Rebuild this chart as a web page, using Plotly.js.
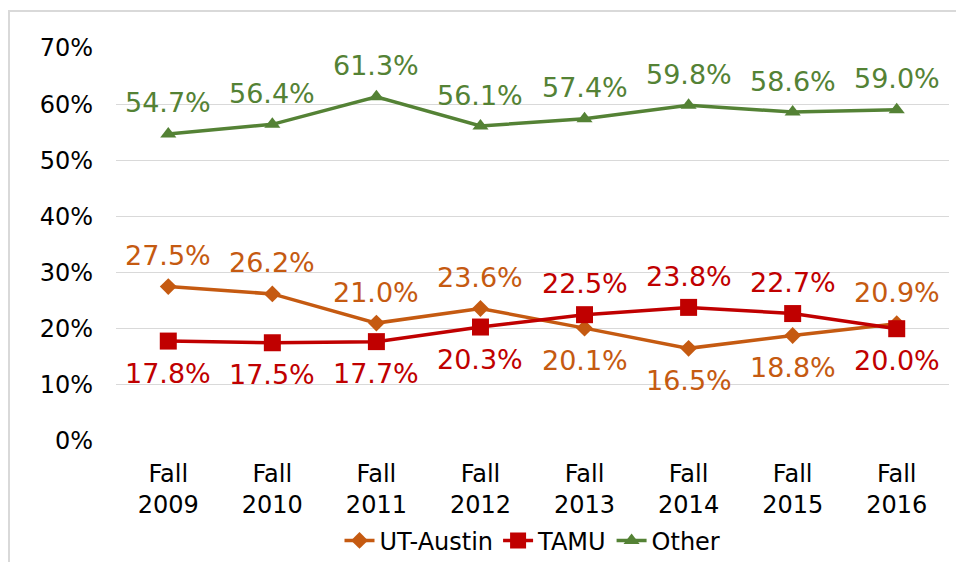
<!DOCTYPE html>
<html>
<head>
<meta charset="utf-8">
<script src="https://cdn.plot.ly/plotly-3.0.1.min.js"></script>
<style>
  html, body { margin: 0; padding: 0; background: #ffffff; }
  #frame { position: absolute; left: 8px; top: 10px; width: 1000px; height: 600px; border: 2px solid #d9d9d9; box-sizing: border-box; z-index: 0; }
  #chart { position: absolute; left: 0; top: 0; width: 956px; height: 562px; z-index: 1; }
</style>
</head>
<body>
<div id="frame"></div>
<div id="chart"></div>
<script>
const categories = ["Fall<br>2009", "Fall<br>2010", "Fall<br>2011", "Fall<br>2012", "Fall<br>2013", "Fall<br>2014", "Fall<br>2015", "Fall<br>2016"];
const utAustin = [27.5, 26.2, 21.0, 23.6, 20.1, 16.5, 18.8, 20.9];
const tamu = [17.8, 17.5, 17.7, 20.3, 22.5, 23.8, 22.7, 20.0];
const other = [54.7, 56.4, 61.3, 56.1, 57.4, 59.8, 58.6, 59.0];
const utLabelPos = ["above", "above", "above", "above", "below", "below", "below", "above"];
const tamuLabelPos = ["below", "below", "below", "below", "above", "above", "above", "below"];
const otherLabelPos = ["above", "above", "above", "above", "above", "above", "above", "above"];
const yTickVals = [0, 10, 20, 30, 40, 50, 60, 70];
const yTickText = ["0%", "10%", "20%", "30%", "40%", "50%", "60%", "70%"];

const FONT = "DejaVu Sans, Verdana, sans-serif";
const cOrange = "#C55A11";
const cRed = "#C00000";
const cGreen = "#548235";

const traces = [
  { name: "UT-Austin", x: categories, y: utAustin, type: "scatter", mode: "lines+markers",
    line: { color: cOrange, width: 3.5 }, marker: { symbol: "diamond", size: 13, color: cOrange }, cliponaxis: false },
  { name: "TAMU", x: categories, y: tamu, type: "scatter", mode: "lines+markers",
    line: { color: cRed, width: 3.5 }, marker: { symbol: "square", size: 17, color: cRed }, cliponaxis: false },
  { name: "Other", x: categories, y: other, type: "scatter", mode: "lines+markers",
    line: { color: cGreen, width: 3.5 }, marker: { symbol: "triangle-up", size: 14, color: cGreen }, cliponaxis: false }
];

const annotations = [];
function addLabels(vals, pos, color) {
  vals.forEach((v, i) => {
    annotations.push({
      x: categories[i], y: v, xref: "x", yref: "y",
      text: v.toFixed(1) + "%", showarrow: false,
      yshift: pos[i] === "above" ? 31 : -32,
      font: { family: FONT, size: 27, color: color }
    });
  });
}
addLabels(utAustin, utLabelPos, cOrange);
addLabels(tamu, tamuLabelPos, cRed);
addLabels(other, otherLabelPos, cGreen);

const layout = {
  width: 956, height: 562,
  margin: { l: 116, r: 7, t: 48, b: 121, autoexpand: false },
  paper_bgcolor: "rgba(0,0,0,0)",
  plot_bgcolor: "rgba(0,0,0,0)",
  font: { family: FONT, size: 24, color: "#000000" },
  showlegend: true,
  legend: { orientation: "h", x: 0.5, xanchor: "center", y: -0.254, yanchor: "middle",
            font: { family: FONT, size: 24, color: "#000000" }, traceorder: "normal" },
  xaxis: { type: "category", showgrid: false, zeroline: false, showline: false, ticks: "",
           ticklabelstandoff: 16,
           tickfont: { family: FONT, size: 24, color: "#000000" }, fixedrange: true },
  yaxis: { range: [0, 70], tickvals: yTickVals, ticktext: yTickText, showgrid: true,
           gridcolor: "#d9d9d9", gridwidth: 1, zeroline: false, showline: false, ticks: "",
           ticklabelstandoff: 22,
           tickfont: { family: FONT, size: 24, color: "#000000" }, fixedrange: true },
  annotations: annotations
};

Plotly.newPlot("chart", traces, layout, { displayModeBar: false, staticPlot: true });
</script>
</body>
</html>
